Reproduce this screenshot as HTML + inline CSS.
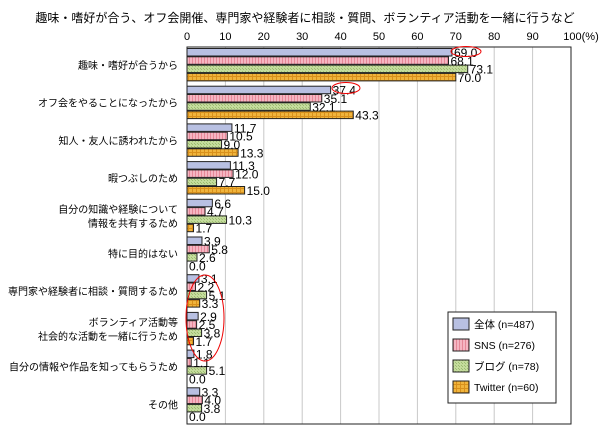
<!DOCTYPE html>
<html><head><meta charset="utf-8"><style>
body{margin:0;background:#fff;}
svg text{font-family:"Liberation Sans","Noto Sans CJK JP",sans-serif;}
</style></head><body>
<svg width="613" height="435" viewBox="0 0 613 435">
<defs>
<pattern id="pSNS" width="3" height="3" patternUnits="userSpaceOnUse"><rect width="3" height="3" fill="#f5b5c2"/><rect width="1" height="3" fill="#e58898"/></pattern>
<pattern id="pBlog" width="3" height="3" patternUnits="userSpaceOnUse"><rect width="3" height="3" fill="#c4dc9c"/><rect width="1" height="1" fill="#9cbc70"/><rect x="2" y="2" width="1" height="1" fill="#9cbc70"/></pattern>
<pattern id="pTw" width="4" height="4" patternUnits="userSpaceOnUse"><rect width="4" height="4" fill="#f0b43c"/><rect width="1" height="4" fill="#d8901c"/><rect width="4" height="1" fill="#d8901c"/></pattern>
</defs>
<text x="305" y="22" font-size="12" text-anchor="middle">趣味・嗜好が合う、オフ会開催、専門家や経験者に相談・質問、ボランティア活動を一緒に行うなど</text>
<g id="grid"></g>
<g id="bars"></g>
<g id="labels"></g>
<rect x="187" y="47" width="384" height="377" fill="none" stroke="#222" stroke-width="1"/>
<ellipse cx="466" cy="51.5" rx="15" ry="5" fill="none" stroke="#e00" stroke-width="1"/>
<ellipse cx="346" cy="88" rx="14" ry="5.5" fill="none" stroke="#e00" stroke-width="1"/>
<ellipse cx="205" cy="318" rx="19" ry="43" fill="none" stroke="#e00" stroke-width="1"/>
<g>
<rect x="448" y="312" width="108" height="91" fill="#fff" stroke="#222"/>
<g id="legend"></g>
</g>
</svg>
<script>
const categories=[["趣味・嗜好が合うから"],["オフ会をやることになったから"],["知人・友人に誘われたから"],["暇つぶしのため"],["自分の知識や経験について","情報を共有するため"],["特に目的はない"],["専門家や経験者に相談・質問するため"],["ボランティア活動等","社会的な活動を一緒に行うため"],["自分の情報や作品を知ってもらうため"],["その他"]];
const seriesNames=["全体 (n=487)","SNS (n=276)","ブログ (n=78)","Twitter (n=60)"];
const allValues=[69.0,37.4,11.7,11.3,6.6,3.9,3.1,2.9,1.8,3.3];
const snsValues=[68.1,35.1,10.5,12.0,4.7,5.8,2.2,2.5,1.1,4.0];
const blogValues=[73.1,32.1,9.0,7.7,10.3,2.6,5.1,3.8,5.1,3.8];
const twitterValues=[70.0,43.3,13.3,15.0,1.7,0.0,3.3,1.7,0.0,0.0];
const ticks=[0,10,20,30,40,50,60,70,80,90,100];
const series=[allValues,snsValues,blogValues,twitterValues];
const fills=["#b8c0e2","url(#pSNS)","url(#pBlog)","url(#pTw)"];
const X0=187,X1=571,Y0=47,Y1=424;
const x=v=>X0+(X1-X0)*v/100;
const gH=(Y1-Y0)/categories.length;
const NS="http://www.w3.org/2000/svg";
function mk(t,a,p){const e=document.createElementNS(NS,t);for(const k in a)e.setAttribute(k,a[k]);p.appendChild(e);return e;}
const grid=document.getElementById('grid'),bars=document.getElementById('bars'),labels=document.getElementById('labels');
ticks.forEach(t=>{
  if(t>0&&t<100){const l=mk('line',{x1:x(t),x2:x(t),y1:Y0,y2:Y1,stroke:'#c8c8c8'},grid);
  
  }
  const tx=mk('text',{x:x(t)+(t==100?10:0),y:40,'font-size':11,'text-anchor':'middle'},labels);
  tx.textContent=t==100?'100(%)':String(t);
  
  
});
categories.forEach((c,i)=>{
  const gy=Y0+i*gH+1.5;
  const cy=gy+16.5;
  c.forEach((line,j)=>{
    const t=mk('text',{x:178,y:cy+4+(j-(c.length-1)/2)*14,'font-size':10,'text-anchor':'end'},labels);
    t.textContent=line;
    
    
  });
  series.forEach((s,k)=>{
    const v=s[i],by=gy+k*8.3;
    if(v>0){const r=mk('rect',{x:X0,y:by,width:x(v)-X0,height:7.5,fill:fills[k],stroke:'#222','stroke-width':1},bars);
    
    }
    const t=mk('text',{x:x(v)+2,y:by+8.5,'font-size':12},labels);
    t.textContent=v.toFixed(1);
    
    
  });
});
const lg=document.getElementById('legend');
seriesNames.forEach((n,k)=>{
  const y=318+k*21;
  const r=mk('rect',{x:453,y:y,width:16,height:12,fill:fills[k],stroke:'#222'},lg);
  
  
  const t=mk('text',{x:474,y:y+10,'font-size':10.5},lg);
  t.textContent=n;
  
  
});
</script>
</body></html>
